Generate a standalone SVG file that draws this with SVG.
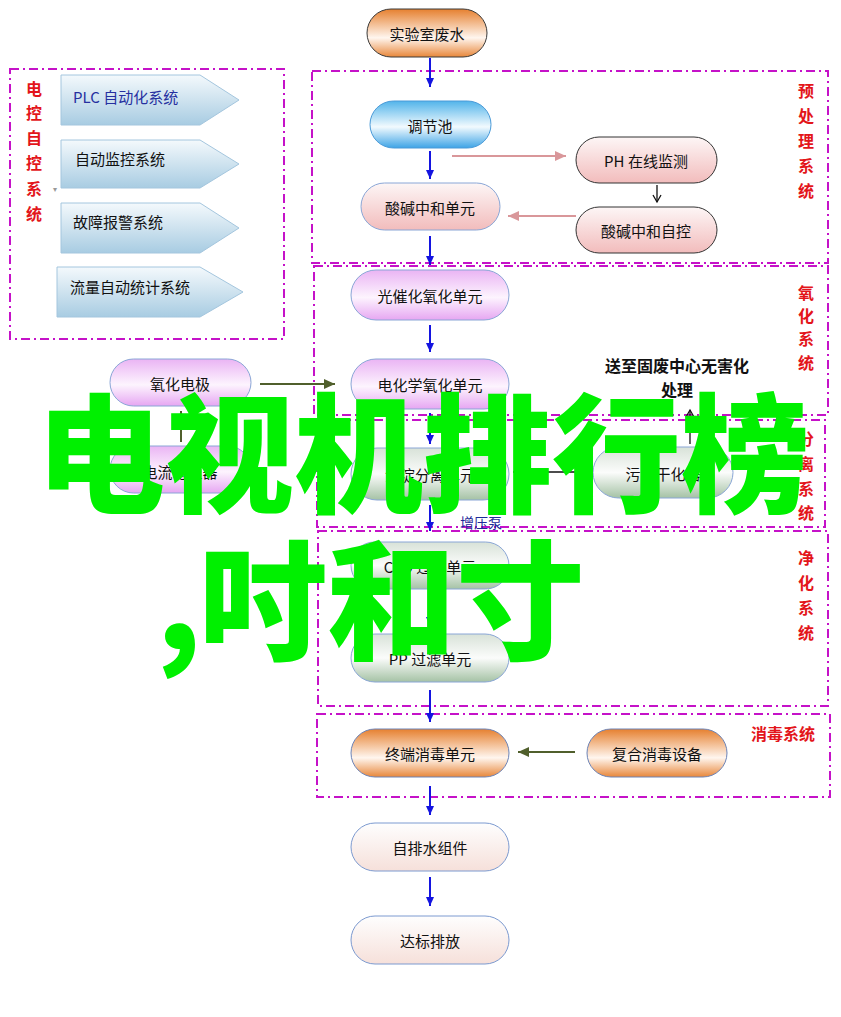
<svg xmlns="http://www.w3.org/2000/svg" width="841" height="1017" viewBox="0 0 841 1017">
<defs>
<style>
.t{font-family:"Noto Sans CJK SC","Noto Sans",sans-serif;font-size:15px;fill:#111;text-anchor:middle;dominant-baseline:central}
.red{font-family:"Noto Sans CJK SC",sans-serif;font-size:16px;font-weight:bold;fill:#e3151a;text-anchor:middle;dominant-baseline:central}
.box{fill:none;stroke:#c512c8;stroke-width:2;stroke-dasharray:9 4 2 4}
.blue{stroke:#1414e0;stroke-width:2;fill:none;marker-end:url(#mb)}
.pinkc{stroke:#d9979a;stroke-width:2;fill:none;marker-end:url(#mp)}
.olive{stroke:#505f2c;stroke-width:2;fill:none;marker-end:url(#mo)}
.blk{stroke:#111;stroke-width:1.3;fill:none;marker-end:url(#mk)}
.chev{fill:url(#gChev);stroke:#a4c6de;stroke-width:1}
.big{font-family:"Noto Sans CJK SC",sans-serif;font-weight:900;font-size:129px;fill:#00f000}
</style>
<linearGradient id="gOrange" x1="0" y1="0" x2="0" y2="1"><stop offset="0" stop-color="#e6802f"/><stop offset="0.6" stop-color="#fff6ef"/><stop offset="1" stop-color="#e8873a"/></linearGradient>
<linearGradient id="gBlue" x1="0" y1="0" x2="0" y2="1"><stop offset="0" stop-color="#52b4ea"/><stop offset="0.55" stop-color="#f2fafe"/><stop offset="1" stop-color="#3ea4e6"/></linearGradient>
<linearGradient id="gPink" x1="0" y1="0" x2="0" y2="1"><stop offset="0" stop-color="#fdf6f6"/><stop offset="1" stop-color="#f2bcbc"/></linearGradient>
<linearGradient id="gPurple" x1="0" y1="0" x2="0" y2="1"><stop offset="0" stop-color="#eab4f4"/><stop offset="0.55" stop-color="#fdf4fe"/><stop offset="1" stop-color="#e6a6f2"/></linearGradient>
<linearGradient id="gSilver" x1="0" y1="0" x2="0" y2="1"><stop offset="0" stop-color="#d8e2d8"/><stop offset="0.5" stop-color="#fbfcfb"/><stop offset="1" stop-color="#a5c2a5"/></linearGradient>
<linearGradient id="gLight" x1="0" y1="0" x2="0" y2="1"><stop offset="0" stop-color="#fefefe"/><stop offset="1" stop-color="#f6e0da"/></linearGradient>
<linearGradient id="gChev" x1="0" y1="0" x2="0" y2="1"><stop offset="0" stop-color="#f4f9fc"/><stop offset="1" stop-color="#a8cce2"/></linearGradient>
<marker id="mb" markerWidth="10" markerHeight="10" refX="9" refY="5" orient="auto" markerUnits="userSpaceOnUse"><path d="M0,1 L9,5 L0,9 Z" fill="#1414e0"/></marker>
<marker id="mp" markerWidth="12" markerHeight="12" refX="11" refY="6" orient="auto" markerUnits="userSpaceOnUse"><path d="M0,1 L11,6 L0,11 Z" fill="#d9979a"/></marker>
<marker id="mo" markerWidth="12" markerHeight="12" refX="11" refY="6" orient="auto" markerUnits="userSpaceOnUse"><path d="M0,1 L11,6 L0,11 Z" fill="#505f2c"/></marker>
<marker id="mk" markerWidth="10" markerHeight="10" refX="8" refY="5" orient="auto" markerUnits="userSpaceOnUse"><path d="M1,1 L8,5 L1,9" fill="none" stroke="#111" stroke-width="1.3"/></marker>
</defs>
<rect width="841" height="1017" fill="#fff"/>

<g id="groups">
<rect class="box" x="10" y="69" width="274" height="270"/>
<rect class="box" x="312" y="71" width="516" height="192"/>
<rect class="box" x="314" y="266" width="514" height="149"/>
<rect class="box" x="317" y="420" width="508" height="107"/>
<rect class="box" x="318" y="531" width="510" height="175"/>
<rect class="box" x="317" y="714" width="513" height="83"/>
</g>

<g id="group-labels">
<text class="red" x="34" y="88">电</text><text class="red" x="34" y="112">控</text><text class="red" x="34" y="137">自</text><text class="red" x="34" y="162">控</text><text class="red" x="34" y="188">系</text><text class="red" x="34" y="213">统</text>
<text x="53" y="192" font-family="Liberation Sans,sans-serif" font-size="8" fill="#999">▾</text>
<text class="red" x="806" y="90">预</text><text class="red" x="806" y="115">处</text><text class="red" x="806" y="140">理</text><text class="red" x="806" y="165">系</text><text class="red" x="806" y="190">统</text>
<text class="red" x="806" y="292">氧</text><text class="red" x="806" y="315">化</text><text class="red" x="806" y="338">系</text><text class="red" x="806" y="362">统</text>
<text class="red" x="806" y="438">分</text><text class="red" x="806" y="463">离</text><text class="red" x="806" y="488">系</text><text class="red" x="806" y="512">统</text>
<text class="red" x="806" y="557">净</text><text class="red" x="806" y="582">化</text><text class="red" x="806" y="607">系</text><text class="red" x="806" y="632">统</text>
<text class="red" x="783" y="733">消毒系统</text>
</g>

<g id="chev-plc"><path class="chev" d="M61,75 H200 L239,100 L200,125 H61 Z"/><text class="t" x="73" y="96" style="text-anchor:start;fill:#2630a0">PLC 自动化系统</text></g>
<g id="chev-monitor"><path class="chev" d="M61,140 H200 L239,164 L200,188 H61 Z"/><text class="t" x="75" y="158" style="text-anchor:start">自动监控系统</text></g>
<g id="chev-alarm"><path class="chev" d="M61,203 H200 L239,228 L200,253 H61 Z"/><text class="t" x="73" y="221" style="text-anchor:start">故障报警系统</text></g>
<g id="chev-flow"><path class="chev" d="M57,267 H200 L243,292 L200,317 H57 Z"/><text class="t" x="70" y="286" style="text-anchor:start">流量自动统计系统</text></g>

<g id="n-lab"><rect x="367" y="9" width="120" height="48" rx="24" fill="url(#gOrange)" stroke="#3a3a3a"/><text class="t" x="427" y="33">实验室废水</text></g>
<g id="n-tjc"><rect x="370" y="101" width="121" height="47" rx="23.5" fill="url(#gBlue)" stroke="#4a9ad8"/><text class="t" x="430" y="125">调节池</text></g>
<g id="n-sjdy"><rect x="361" y="183" width="139" height="47" rx="23.5" fill="url(#gPink)" stroke="#8aa6d6"/><text class="t" x="430" y="207">酸碱中和单元</text></g>
<g id="n-ph"><rect x="576" y="137" width="141" height="46" rx="23" fill="url(#gPink)" stroke="#333"/><text class="t" x="646" y="160">PH 在线监测</text></g>
<g id="n-sjzk"><rect x="576" y="207" width="141" height="46" rx="23" fill="url(#gPink)" stroke="#333"/><text class="t" x="646" y="230">酸碱中和自控</text></g>
<g id="n-gch"><rect x="351" y="270" width="158" height="50" rx="25" fill="url(#gPurple)" stroke="#8aa6d6"/><text class="t" x="430" y="295">光催化氧化单元</text></g>
<g id="n-dhx"><rect x="351" y="359" width="158" height="50" rx="25" fill="url(#gPurple)" stroke="#8aa6d6"/><text class="t" x="430" y="384">电化学氧化单元</text></g>
<g id="n-yhdj"><rect x="110" y="359" width="141" height="47" rx="23.5" fill="url(#gPurple)" stroke="#8aa6d6"/><text class="t" x="180" y="383">氧化电极</text></g>
<g id="n-dlwy"><rect x="110" y="446" width="141" height="47" rx="23.5" fill="url(#gPurple)" stroke="#8aa6d6"/><text class="t" x="180" y="471">电流稳压器</text></g>
<g id="n-cdfl"><rect x="351" y="448" width="158" height="52" rx="26" fill="url(#gSilver)" stroke="#8aa6d6"/><text class="t" x="430" y="474">沉淀分离单元</text></g>
<g id="n-wngh"><rect x="593" y="447" width="140" height="51" rx="25.5" fill="url(#gSilver)" stroke="#8aa6d6"/><text class="t" x="663" y="473">污泥干化器</text></g>
<g id="n-cto"><rect x="351" y="542" width="158" height="47" rx="23.5" fill="url(#gSilver)" stroke="#8aa6d6"/><text class="t" x="430" y="566">CTO 过滤单元</text></g>
<g id="n-pp"><rect x="351" y="634" width="158" height="48" rx="24" fill="url(#gSilver)" stroke="#8aa6d6"/><text class="t" x="430" y="658">PP 过滤单元</text></g>
<g id="n-zdxd"><rect x="351" y="729" width="158" height="48" rx="24" fill="url(#gOrange)" stroke="#6c84b8"/><text class="t" x="430" y="753">终端消毒单元</text></g>
<g id="n-fhxd"><rect x="587" y="729" width="140" height="48" rx="24" fill="url(#gOrange)" stroke="#6c84b8"/><text class="t" x="657" y="753">复合消毒设备</text></g>
<g id="n-zps"><rect x="351" y="823" width="158" height="48" rx="24" fill="url(#gLight)" stroke="#7c9ad0"/><text class="t" x="430" y="847">自排水组件</text></g>
<g id="n-dbpf"><rect x="351" y="916" width="158" height="48" rx="24" fill="url(#gLight)" stroke="#7c9ad0"/><text class="t" x="430" y="940">达标排放</text></g>
<g id="n-gf"><text class="t" x="677" y="365" style="font-weight:bold;font-size:16px">送至固废中心无害化</text><text class="t" x="677" y="389" style="font-weight:bold;font-size:16px">处理</text></g>

<g id="connectors">
<path class="blue" d="M430,58 V87"/>
<path class="blue" d="M430,151 V179"/>
<path class="blue" d="M430,236 V265"/>
<path class="blue" d="M430,325 V352"/>
<path class="blue" d="M430,413 V444"/>
<path class="blue" d="M430,505 V531"/>
<path class="blue" d="M430,596 V626"/>
<path class="blue" d="M430,690 V722"/>
<path class="blue" d="M430,786 V815"/>
<path class="blue" d="M430,877 V906"/>
<path class="pinkc" d="M452,156 H566"/>
<path class="pinkc" d="M576,216 H508"/>
<path class="blk" d="M657,185 V202"/>
<path class="olive" d="M260,384 H335"/>
<path class="olive" d="M181,442 V411"/>
<path class="olive" d="M575,752 H518"/>
<path class="blk" d="M513,472 H584"/>
<path class="blk" d="M690,444 V410"/>
<text x="460" y="522" font-family="Noto Sans CJK SC,sans-serif" font-size="14" fill="#1e2a9a" dominant-baseline="central">增压泵</text>
</g>

<g id="overlay">
<text class="big" x="36" y="503">电视机排行榜</text>
<text class="big" x="156" y="650">,<tspan x="198">吋和寸</tspan></text>
</g>
</svg>
